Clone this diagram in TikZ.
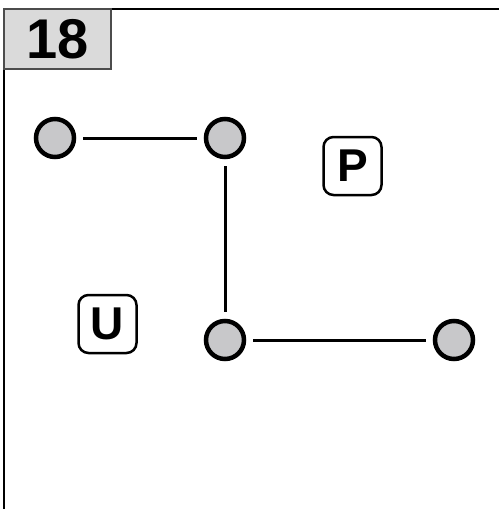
\documentclass[tikz,border=0pt]{standalone}
\usepackage{fontspec}
\setmainfont{Liberation Sans}
\usepackage{tikz}
\usetikzlibrary{
  arrows.meta,
  positioning,
  calc
}

\definecolor{cinzaponto}{RGB}{200,200,202}
\definecolor{cinzarotulo}{RGB}{218,218,218}

\begin{document}
\begin{tikzpicture}[
    x=1pt, y=-1pt,
    ponto/.style={
    circle,
    draw,
    fill=cinzaponto,
    line width=4.5pt,
    minimum size=38pt,
    inner sep=0pt
    },
    letra/.style={
    draw,
    rounded corners=10pt,
    line width=2.5pt,
    minimum width=58pt,
    minimum height=58pt,
    inner sep=0pt,
    font=\fontsize{46}{46}\selectfont\bfseries
    },
    numero/.style={
    draw=black!70,
    fill=cinzarotulo,
    line width=1.5pt,
    minimum width=107pt,
    minimum height=60pt,
    inner sep=0pt,
    font=\fontsize{56}{56}\selectfont\bfseries
    },
    linha/.style={line width=3pt, shorten <=7pt, shorten >=7pt}
    ]
    
    \useasboundingbox (0,0) rectangle (499,509);
    
    % moldura
    \draw[line width=2pt] (4,509) -- (4,9) -- (499,9);
    
    \node[numero] (num) at (57.5,39) {18};
    
    \node[ponto] (a) at (55,138) {};
    \node[ponto] (b) at (225,138) {};
    \node[ponto] (c) at (225,340) {};
    \node[ponto] (d) at (454,340) {};
    
    \node[letra] (p) at (352.5,166) {P};
    \node[letra] (u) at (107.5,324) {U};
    
    \draw[linha] (a)--(b);
    \draw[linha] (b)--(c);
    \draw[linha] (c)--(d);
    
\end{tikzpicture}
\end{document}
